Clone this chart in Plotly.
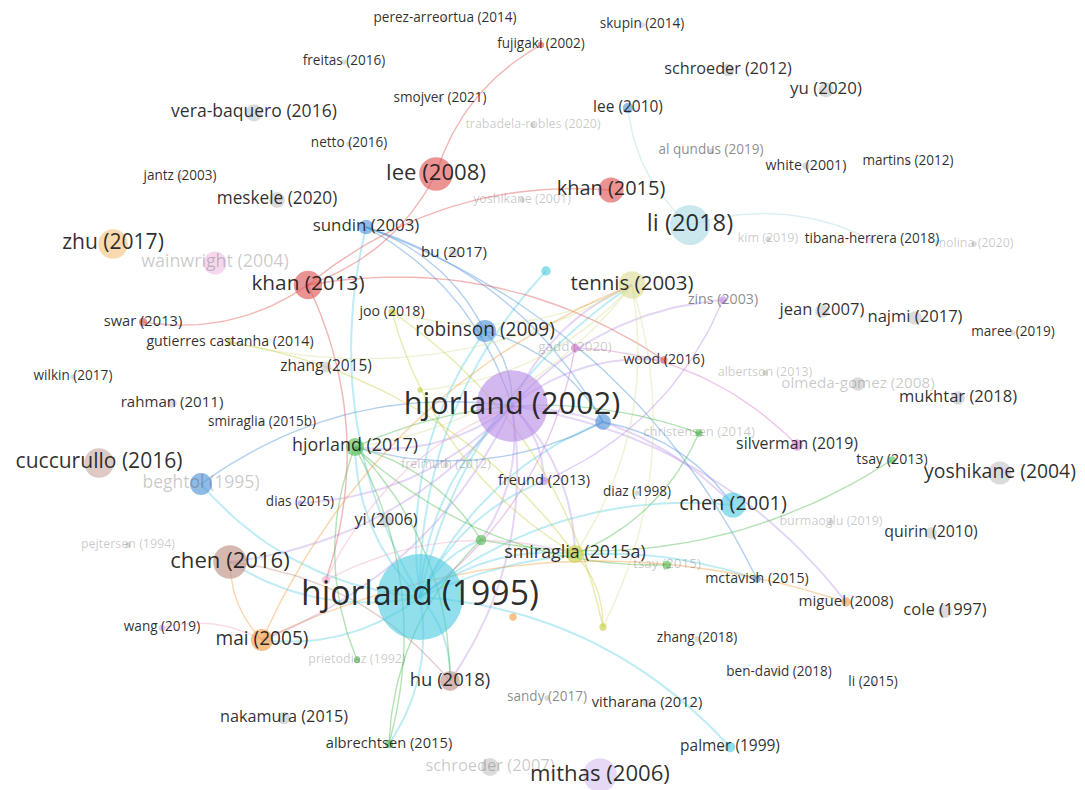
import plotly.graph_objects as go
import numpy as np

# ---------------- data (VOSviewer layout) ----------------
labels = [
    "perez-arreortua (2014)", "fujigaki (2002)", "skupin (2014)", "freitas (2016)",
    "schroeder (2012)", "yu (2020)", "smojver (2021)", "lee (2010)",
    "trabadela-robles (2020)", "vera-baquero (2016)", "netto (2016)", "al qundus (2019)",
    "white (2001)", "martins (2012)", "jantz (2003)", "lee (2008)",
    "khan (2015)", "yoshikane (2001)", "meskele (2020)", "sundin (2003)",
    "li (2018)", "kim (2019)", "tibana-herrera (2018)", "molina (2020)",
    "zhu (2017)", "bu (2017)", "wainwright (2004)", "_c270",
    "khan (2013)", "tennis (2003)", "zins (2003)", "jean (2007)",
    "najmi (2017)", "maree (2019)", "swar (2013)", "joo (2018)",
    "gutierres castanha (2014)", "robinson (2009)", "gadd (2020)", "wood (2016)",
    "zhang (2015)", "wilkin (2017)", "albertson (2013)", "olmeda-gomez (2008)",
    "rahman (2011)", "hjorland (2002)", "mukhtar (2018)", "_y389",
    "smiraglia (2015b)", "_b422", "hjorland (2017)", "christensen (2014)",
    "silverman (2019)", "tsay (2013)", "cuccurullo (2016)", "freimuth (2012)",
    "freund (2013)", "beghtol (1995)", "yoshikane (2004)", "dias (2015)",
    "diaz (1998)", "chen (2001)", "yi (2006)", "burmaoglu (2019)",
    "quirin (2010)", "pejtersen (1994)", "_g539", "chen (2016)",
    "smiraglia (2015a)", "hjorland (1995)", "tsay (2015)", "_p580",
    "mctavish (2015)", "miguel (2008)", "cole (1997)", "_o617",
    "_y601", "wang (2019)", "mai (2005)", "zhang (2018)",
    "prietodiaz (1992)", "ben-david (2018)", "li (2015)", "hu (2018)",
    "sandy (2017)", "vitharana (2012)", "nakamura (2015)", "palmer (1999)",
    "albrechtsen (2015)", "schroeder (2007)", "mithas (2006)",
]
node_x = [
    445, 541, 642, 344, 728, 826, 440, 628,
    533, 254, 349, 711, 806, 908, 180, 436,
    611, 522, 277, 366, 690, 768, 872, 974,
    113, 454, 215, 546, 308, 632, 723, 822,
    915, 1013, 143, 392, 230, 485, 575, 664,
    326, 73, 765, 858, 172, 512, 958, 420,
    262, 603, 355, 699, 797, 892, 99, 446,
    544, 201, 1000, 300, 637, 733, 386, 831,
    931, 128, 481, 230, 575, 420, 667, 326,
    757, 846, 945, 513, 603, 162, 262, 697,
    357, 779, 873, 450, 547, 647, 284, 730,
    389, 490, 600,
]
node_y = [
    19, 45, 25, 62, 70, 90, 99, 108,
    125, 113, 144, 151, 166, 162, 177, 174,
    190, 200, 200, 227, 225, 239, 240, 244,
    244, 253, 263, 271, 285, 285, 300, 311,
    318, 333, 322, 312, 342, 331, 348, 360,
    367, 377, 373, 384, 403, 406, 398, 390,
    423, 422, 447, 433, 445, 460, 463, 465,
    481, 484, 473, 503, 493, 505, 521, 522,
    533, 545, 540, 562, 554, 597, 565, 580,
    579, 602, 611, 617, 627, 628, 640, 639,
    660, 673, 683, 681, 698, 703, 718, 747,
    744, 767, 775,
]
# node weight (drives circle and label size)
weight = [
    5, 6, 5, 5, 12, 14, 5, 10,
    5, 16, 5, 5, 7, 5, 5, 32,
    24, 5, 15, 14, 38, 5, 5, 5,
    28, 9, 22, 9, 27, 26, 7, 13,
    13, 5, 8, 7, 7, 21, 8, 7,
    10, 5, 5, 13, 9, 68, 13, 5,
    5, 15, 17, 7, 11, 7, 28, 5,
    8, 21, 22, 5, 5, 24, 12, 5,
    11, 5, 10, 32, 17, 82, 8, 8,
    7, 9, 13, 7, 7, 6, 21, 5,
    6, 5, 5, 19, 5, 8, 12, 10,
    8, 17, 32,
]
cluster = [
    0, 1, 0, 0, 0, 0, 0, 4,
    0, 0, 0, 0, 0, 0, 0, 1,
    1, 0, 0, 4, 13, 0, 0, 0,
    9, 0, 16, 2, 1, 7, 3, 0,
    0, 0, 1, 6, 6, 4, 15, 1,
    0, 0, 0, 0, 0, 3, 0, 6,
    0, 4, 5, 5, 15, 5, 11, 0,
    3, 4, 0, 3, 0, 2, 0, 0,
    0, 0, 5, 10, 6, 2, 5, 12,
    4, 8, 0, 8, 6, 12, 8, 0,
    5, 0, 0, 10, 0, 0, 0, 2,
    5, 0, 14,
]
faded_labels = {
    "trabadela-robles (2020)", "yoshikane (2001)", "kim (2019)", "molina (2020)",
    "wainwright (2004)", "gadd (2020)", "albertson (2013)", "olmeda-gomez (2008)",
    "christensen (2014)", "freimuth (2012)", "beghtol (1995)", "burmaoglu (2019)",
    "pejtersen (1994)", "tsay (2015)", "prietodiaz (1992)", "schroeder (2007)",
}
dim_labels = {"al qundus (2019)", "zins (2003)", "sandy (2017)"}

edges = [
    ("hjorland (1995)", "hjorland (2002)"), ("hjorland (1995)", "robinson (2009)"),
    ("hjorland (1995)", "sundin (2003)"), ("hjorland (1995)", "_c270"),
    ("hjorland (1995)", "chen (2001)"), ("hjorland (1995)", "palmer (1999)"),
    ("hjorland (1995)", "mai (2005)"), ("hjorland (1995)", "hjorland (2017)"),
    ("hjorland (1995)", "smiraglia (2015a)"), ("hjorland (1995)", "_b422"),
    ("hjorland (1995)", "tennis (2003)"), ("hjorland (1995)", "mctavish (2015)"),
    ("hjorland (1995)", "beghtol (1995)"), ("hjorland (1995)", "freund (2013)"),
    ("hjorland (1995)", "_g539"), ("hjorland (1995)", "hu (2018)"),
    ("hjorland (1995)", "chen (2016)"), ("hjorland (1995)", "albrechtsen (2015)"),
    ("hjorland (2002)", "zins (2003)"), ("hjorland (2002)", "wood (2016)"),
    ("hjorland (2002)", "freund (2013)"), ("hjorland (2002)", "hjorland (2017)"),
    ("hjorland (2002)", "chen (2016)"), ("hjorland (2002)", "mai (2005)"),
    ("hjorland (2002)", "smiraglia (2015a)"), ("hjorland (2002)", "chen (2001)"),
    ("hjorland (2002)", "miguel (2008)"), ("hjorland (2002)", "hu (2018)"),
    ("hjorland (2002)", "_g539"), ("hjorland (2002)", "tennis (2003)"),
    ("hjorland (2002)", "dias (2015)"),
    ("sundin (2003)", "hjorland (2002)"), ("sundin (2003)", "robinson (2009)"),
    ("sundin (2003)", "mctavish (2015)"), ("sundin (2003)", "_b422"),
    ("robinson (2009)", "hjorland (2002)"), ("robinson (2009)", "_b422"),
    ("beghtol (1995)", "hjorland (2002)"), ("_b422", "chen (2001)"),
    ("_b422", "hjorland (2017)"),
    ("lee (2008)", "fujigaki (2002)"), ("lee (2008)", "khan (2013)"),
    ("khan (2013)", "khan (2015)"), ("khan (2013)", "swar (2013)"),
    ("khan (2013)", "wood (2016)"), ("khan (2013)", "_p580"),
    ("li (2018)", "lee (2010)"), ("li (2018)", "tibana-herrera (2018)"),
    ("tennis (2003)", "joo (2018)"), ("tennis (2003)", "gutierres castanha (2014)"),
    ("tennis (2003)", "smiraglia (2015a)"), ("tennis (2003)", "_y601"),
    ("tennis (2003)", "hjorland (2017)"), ("tennis (2003)", "_y389"),
    ("smiraglia (2015a)", "_y601"), ("smiraglia (2015a)", "joo (2018)"),
    ("gutierres castanha (2014)", "smiraglia (2015a)"), ("joo (2018)", "_y601"),
    ("hjorland (2017)", "albrechtsen (2015)"), ("hjorland (2017)", "christensen (2014)"),
    ("hjorland (2017)", "_g539"), ("hjorland (2017)", "hu (2018)"),
    ("albrechtsen (2015)", "_g539"), ("christensen (2014)", "smiraglia (2015a)"),
    ("tsay (2013)", "_g539"), ("tsay (2015)", "hjorland (2017)"),
    ("prietodiaz (1992)", "hjorland (2017)"),
    ("mai (2005)", "miguel (2008)"), ("mai (2005)", "chen (2016)"),
    ("mai (2005)", "tennis (2003)"), ("chen (2016)", "hu (2018)"),
    ("wang (2019)", "mai (2005)"), ("_p580", "hjorland (2002)"),
    ("_p580", "smiraglia (2015a)"), ("gadd (2020)", "silverman (2019)"),
    ("gadd (2020)", "hjorland (1995)"), ("zins (2003)", "freund (2013)"),
]

# ---------------- styles ----------------
palette = {
    0: (196, 196, 196), 1: (222, 80, 80), 2: (76, 202, 224), 3: (184, 140, 230),
    4: (74, 144, 214), 5: (76, 187, 76), 6: (201, 204, 64), 7: (218, 221, 149),
    8: (243, 154, 62), 9: (244, 194, 126), 10: (189, 140, 130), 11: (201, 167, 160),
    12: (240, 166, 200), 13: (169, 217, 227), 14: (213, 194, 238), 15: (215, 123, 208),
    16: (240, 192, 228),
}

def rgba(c, a):
    return f"rgba({c[0]},{c[1]},{c[2]},{a})"

idx = {lab: i for i, lab in enumerate(labels)}
fig = go.Figure()

# edges: curved (quadratic Bezier) grouped by colour
groups = {}
for s, t in edges:
    i, j = idx[s], idx[t]
    x0, y0, x1, y1 = node_x[i], node_y[i], node_x[j], node_y[j]
    mx, my = (x0 + x1) / 2, (y0 + y1) / 2
    dx, dy = x1 - x0, y1 - y0
    cx, cy = mx + 0.2 * dy, my - 0.2 * dx
    tt = np.linspace(0, 1, 30)
    bx = (1 - tt) ** 2 * x0 + 2 * (1 - tt) * tt * cx + tt ** 2 * x1
    by = (1 - tt) ** 2 * y0 + 2 * (1 - tt) * tt * cy + tt ** 2 * y1
    hub = s in ("hjorland (1995)", "hjorland (2002)")
    key = (cluster[i], hub)
    gx, gy = groups.setdefault(key, ([], []))
    gx.extend(list(bx) + [None])
    gy.extend(list(by) + [None])

for (cl, hub), (gx, gy) in groups.items():
    fig.add_trace(go.Scatter(
        x=gx, y=gy, mode="lines", hoverinfo="skip", showlegend=False,
        line=dict(color=rgba(palette[cl], 0.36 if hub else 0.42), width=2.0 if hub else 1.4),
    ))

# nodes
fig.add_trace(go.Scatter(
    x=node_x, y=node_y, mode="markers", hoverinfo="text", showlegend=False,
    text=[l if not l.startswith("_") else "" for l in labels],
    marker=dict(size=[w * 1.05 for w in weight],
                color=[rgba(palette[c], 0.88) for c in cluster], line=dict(width=0)),
))

# labels
txt, tcol, font_sizes = [], [], []
for l, w in zip(labels, weight):
    fs = 1.15 * (11.8 + 0.55 * max(w - 6, 0) ** 0.8)
    if l.startswith("_"):
        txt.append("")
        tcol.append("rgba(0,0,0,0)")
    elif l in faded_labels:
        txt.append(l)
        tcol.append("rgba(60,60,60,0.28)")
        fs *= 0.92
    elif l in dim_labels:
        txt.append(l)
        tcol.append("rgba(60,60,60,0.6)")
    else:
        txt.append(l)
        tcol.append("rgba(25,25,25,0.92)")
    font_sizes.append(fs)

fig.add_trace(go.Scatter(
    x=node_x, y=node_y, mode="text", text=txt, textposition="middle center",
    hoverinfo="skip", showlegend=False,
    textfont=dict(family="Open Sans", size=font_sizes, color=tcol),
))

fig.update_layout(
    width=1085, height=790, autosize=False,
    margin=dict(l=0, r=0, t=0, b=0),
    paper_bgcolor="white", plot_bgcolor="white",
    xaxis=dict(range=[0, 1085], visible=False, fixedrange=True),
    yaxis=dict(range=[790, 0], visible=False, fixedrange=True),
)
fig.write_html("out.html")
